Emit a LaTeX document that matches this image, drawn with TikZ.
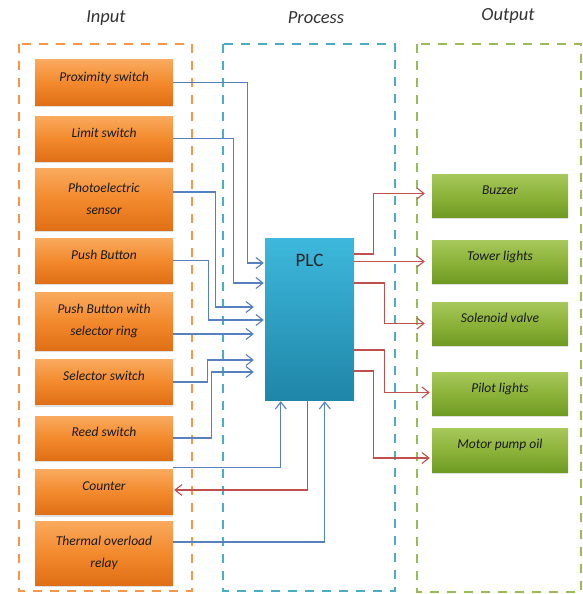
\documentclass[tikz,border=0pt]{standalone}
\usepackage{fontspec}
\setmainfont{Carlito}
\usetikzlibrary{arrows.meta,shadows}

\definecolor{inorange}{HTML}{F79646}
\definecolor{procblue}{HTML}{4BACC6}
\definecolor{outgreen}{HTML}{9BBB59}
\definecolor{wireblue}{HTML}{5680C0}
\definecolor{wirered}{HTML}{C0504D}
\definecolor{orgtop}{HTML}{F9AA5E}
\definecolor{orgmid}{HTML}{F38A2D}
\definecolor{orgbot}{HTML}{DF6F16}
\definecolor{grntop}{HTML}{A6C85C}
\definecolor{grnmid}{HTML}{8DB33A}
\definecolor{grnbot}{HTML}{6F9B23}
\definecolor{plctop}{HTML}{3DB8DC}
\definecolor{plcbot}{HTML}{1F86A8}
\definecolor{labelgray}{HTML}{333333}

\tikzset{
  groupframe/.style={line width=2.4pt, dash pattern=on 9pt off 8pt},
  grouptitle/.style={font=\fontsize{18.5}{20}\selectfont\itshape, text=labelgray},
  inbox/.style={rectangle, minimum width=138pt, inner sep=2pt, align=center,
    top color=orgtop, bottom color=orgbot, middle color=orgmid,
    font=\fontsize{13.5}{22}\selectfont\itshape, text=black!90,
    drop shadow={shadow xshift=0pt, shadow yshift=-2pt, opacity=0.25}},
  outbox/.style={rectangle, minimum width=136pt, minimum height=43pt, inner sep=2pt,
    top color=grntop, bottom color=grnbot, middle color=grnmid,
    font=\fontsize{13.5}{22}\selectfont\itshape, text=black!90, text depth=11.5pt,
    drop shadow={shadow xshift=0pt, shadow yshift=-2pt, opacity=0.25}},
  % single-line captions sit a little above the middle of their box
  raised/.style={text depth=11.5pt},
  plcbox/.style={rectangle, minimum width=89pt, minimum height=162pt, inner sep=0pt,
    top color=plctop, bottom color=plcbot},
  wirein/.style={draw=wireblue, line width=1.1pt,
    -{Straight Barb[length=7pt,width=11pt,line width=1.1pt]}},
  wireout/.style={draw=wirered, line width=1.1pt,
    -{Straight Barb[length=7pt,width=11pt,line width=1.1pt]}},
}

\begin{document}
\begin{tikzpicture}[x=1pt,y=-1pt]
\useasboundingbox (0,0) rectangle (583,594);

% dashed group frames
\draw[groupframe, draw=inorange] (19,44) rectangle (192,591);
\draw[groupframe, draw=procblue] (223,44) rectangle (395,591);
\draw[groupframe, draw=outgreen] (417,44) rectangle (581,592);

\node[grouptitle] (tin)   at (106,18) {Input};
\node[grouptitle] (tproc) at (316,18) {Process};
\node[grouptitle] (tout)  at (508,16) {Output};

% inputs
\node[inbox, raised, minimum height=45pt] (prox) at (104,82.5)  {Proximity switch};
\node[inbox, raised, minimum height=45pt] (lim)  at (104,138.5) {Limit switch};
\node[inbox, minimum height=62pt] (pho)  at (104,199)   {Photoelectric\\sensor};
\node[inbox, raised, minimum height=45pt] (pb)   at (104,260.5) {Push Button};
\node[inbox, minimum height=58pt] (pbs)  at (104,321)   {Push Button with\\selector ring};
\node[inbox, raised, minimum height=45pt] (sel)  at (104,382)   {Selector switch};
\node[inbox, raised, minimum height=44pt] (reed) at (104,438)   {Reed switch};
\node[inbox, raised, minimum height=45pt] (cnt)  at (104,492)   {Counter};
\node[inbox, minimum height=64pt] (thr)  at (104,553)   {Thermal overload\\relay};

% controller
\node[plcbox, label={[anchor=north, yshift=-13pt, font=\fontsize{19}{20}\selectfont, text=black!85]north:PLC}] (plc) at (309.5,319) {};

% outputs
\node[outbox] (buzz)  at (500,195.5) {Buzzer};
\node[outbox] (tower) at (500,261.5) {Tower lights};
\node[outbox] (sol)   at (500,323.5) {Solenoid valve};
\node[outbox] (pilot) at (500,393.5) {Pilot lights};
\node[outbox, minimum height=44pt] (motor) at (500,450) {Motor pump oil};

% input wiring into the PLC
\draw[wirein] (prox.east) -- ++(74,0) |- ([xshift=-1pt,yshift=56pt]plc.west);
\draw[wirein] (lim.east) -- ++(60,0) |- ([xshift=-1pt,yshift=36pt]plc.west);
\draw[wirein] ([yshift=7pt]pho.east) -- ++(42,0) |- ([xshift=-11pt,yshift=12pt]plc.west);
\draw[wirein] (pb.east) -- ++(35,0) |- ([xshift=-1pt,yshift=-1pt]plc.west);
\draw[wirein] ([yshift=-13pt]pbs.east) -- ([xshift=-11pt]plc.west |- 0,334);
\draw[wirein] (sel.east) -- ++(34,0) |- ([xshift=-11pt,yshift=-41pt]plc.west);
\draw[wirein] (reed.east) -- ++(38,0) |- ([xshift=-11pt,yshift=-53pt]plc.west);
\draw[wirein] ([yshift=2pt]cnt.north east) -| ([xshift=16pt,yshift=-1pt]plc.south west);
\draw[wirein] ([yshift=11pt]thr.east) -| ([xshift=60pt,yshift=-1pt]plc.south west);

% PLC output wiring
\draw[wireout] ([xshift=43pt]plc.south west) |- ([xshift=1pt,yshift=2pt]cnt.east);
\draw[wireout] ([yshift=65pt]plc.east) -- ++(19,0) |- ([xshift=-7pt,yshift=2pt]buzz.west);
\draw[wireout] (plc.east |- tower.west) -- ([xshift=-7pt]tower.west);
\draw[wireout] ([yshift=36pt]plc.east) -- ++(30,0) |- ([xshift=-7pt]sol.west);
\draw[wireout] ([yshift=-31pt]plc.east) -- ++(30,0) |- ([xshift=-2pt,yshift=1pt]pilot.west);
\draw[wireout] ([yshift=-52pt]plc.east) -- ++(19,0) |- ([xshift=-2pt,yshift=-8pt]motor.west);
\end{tikzpicture}
\end{document}
